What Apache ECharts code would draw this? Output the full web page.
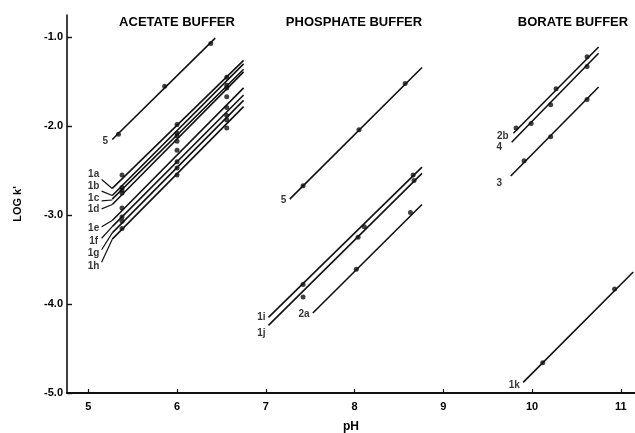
<!DOCTYPE html>
<html>
<head>
<meta charset="utf-8">
<script src="https://cdn.jsdelivr.net/npm/echarts@6/dist/echarts.min.js"></script>
<style>
  html, body { margin: 0; padding: 0; background: #fff; }
  #chart { width: 635px; height: 433px; }
</style>
</head>
<body>
<div id="chart"></div>
<script>
  // fitted lines: [label, pH start, log k' start, pH end, log k' end]
  const acetateLines = [
    ['5', 5.27, -2.15, 6.43, -1.01],
    ['1a', 5.27, -2.70, 6.75, -1.26],
    ['1b', 5.27, -2.78, 6.75, -1.30],
    ['1c', 5.27, -2.82, 6.75, -1.36],
    ['1d', 5.27, -2.88, 6.75, -1.39],
    ['1e', 5.27, -3.06, 6.75, -1.57],
    ['1f', 5.27, -3.13, 6.75, -1.65],
    ['1g', 5.27, -3.20, 6.75, -1.71],
    ['1h', 5.27, -3.27, 6.75, -1.78]
  ]
  const phosphateLines = [
    ['5', 7.27, -2.82, 8.76, -1.34],
    ['1i', 7.03, -4.15, 8.76, -2.46],
    ['1j', 7.03, -4.24, 8.76, -2.53],
    ['2a', 7.53, -4.10, 8.76, -2.88]
  ]
  const borateLines = [
    ['2b', 9.79, -2.08, 10.75, -1.11],
    ['4', 9.77, -2.18, 10.75, -1.18],
    ['3', 9.76, -2.56, 10.75, -1.56],
    ['1k', 9.90, -4.88, 11.14, -3.64]
  ]

  // measured points [pH, log k']
  const acetatePoints = [
    [5.34, -2.09], [5.86, -1.55], [6.38, -1.07],
    [5.38, -2.55], [6.0, -1.98], [6.56, -1.45],
    [5.38, -2.69], [6.0, -2.08], [6.56, -1.54],
    [5.38, -2.72], [6.0, -2.11], [6.56, -1.57],
    [5.38, -2.75], [6.0, -2.17], [6.56, -1.67],
    [5.38, -2.92], [6.0, -2.27], [6.56, -1.79],
    [5.38, -3.02], [6.0, -2.40], [6.56, -1.88],
    [5.38, -3.07], [6.0, -2.47], [6.56, -1.93],
    [5.38, -3.15], [6.0, -2.55], [6.56, -2.02]
  ]
  const phosphatePoints = [
    [7.42, -2.67], [8.05, -2.04], [8.57, -1.52],
    [7.42, -3.78], [8.11, -3.13], [8.66, -2.55],
    [7.42, -3.92], [8.04, -3.25], [8.67, -2.61],
    [8.02, -3.61], [8.63, -2.97]
  ]
  const boratePoints = [
    [9.82, -2.02], [10.27, -1.58], [10.62, -1.22],
    [9.99, -1.97], [10.21, -1.76], [10.62, -1.33],
    [9.91, -2.39], [10.21, -2.12], [10.62, -1.70],
    [10.12, -4.66], [10.93, -3.83]
  ]

  // curve labels [text, pH, log k'] and leader lines [pH, log, pH, log]
  const curveLabels = [
    ['5', 5.19, -2.17],
    ['1a', 5.06, -2.54], ['1b', 5.06, -2.67], ['1c', 5.06, -2.81], ['1d', 5.06, -2.93],
    ['1e', 5.06, -3.15], ['1f', 5.06, -3.29], ['1g', 5.06, -3.43], ['1h', 5.06, -3.57],
    ['5', 7.20, -2.83], ['1i', 6.95, -4.15], ['1j', 6.95, -4.33], ['2a', 7.43, -4.12],
    ['2b', 9.67, -2.11], ['4', 9.63, -2.24], ['3', 9.63, -2.64], ['1k', 9.80, -4.91]
  ]
  const leaders = [
    [5.15, -2.60, 5.27, -2.70],
    [5.15, -2.73, 5.27, -2.78],
    [5.15, -2.84, 5.27, -2.83],
    [5.15, -2.93, 5.27, -2.88],
    [5.15, -3.13, 5.27, -3.06],
    [5.15, -3.26, 5.27, -3.13],
    [5.15, -3.39, 5.27, -3.20],
    [5.15, -3.53, 5.27, -3.27]
  ]

  const buffers = ['ACETATE BUFFER', 'PHOSPHATE BUFFER', 'BORATE BUFFER']
  const xTicks = [5, 6, 7, 8, 9, 10, 11]
  const yTicks = [-5, -4, -3, -2, -1]

  const ink = '#000'
  const font = "'Liberation Sans', Arial, sans-serif"

  const chart = echarts.init(document.getElementById('chart'))

  const series = []
  acetateLines.concat(phosphateLines, borateLines).forEach(function (l) {
    series.push({
      type: 'line',
      data: [[l[1], l[2]], [l[3], l[4]]],
      showSymbol: false,
      silent: true,
      lineStyle: { color: '#111', width: 1.6 }
    })
  })
  leaders.forEach(function (l) {
    series.push({
      type: 'line',
      data: [[l[0], l[1]], [l[2], l[3]]],
      showSymbol: false,
      silent: true,
      lineStyle: { color: '#111', width: 1.2 }
    })
  })
  series.push({
    type: 'scatter',
    data: acetatePoints.concat(phosphatePoints, boratePoints),
    symbolSize: 5,
    silent: true,
    itemStyle: { color: '#111' }
  })
  series.push({
    type: 'scatter',
    data: curveLabels.map(function (c) { return { value: [c[1], c[2]], name: c[0] } }),
    symbolSize: 0,
    silent: true,
    label: {
      show: true,
      position: 'inside',
      formatter: '{b}',
      color: ink,
      fontFamily: font,
      fontWeight: 'bold',
      fontSize: 10
    }
  })

  chart.setOption({
    animation: false,
    backgroundColor: '#fff',
    title: [
      { text: buffers[0], left: 177, top: 16 },
      { text: buffers[1], left: 354, top: 16 },
      { text: buffers[2], left: 573, top: 16 }
    ].map(function (t) {
      t.textAlign = 'center'
      t.padding = 0
      t.textStyle = { color: ink, fontFamily: font, fontWeight: 'bold', fontSize: 13 }
      return t
    }),
    grid: { left: 67, right: 0, top: 15, bottom: 40, outerBoundsMode: 'none', containLabel: false },
    xAxis: {
      type: 'value',
      min: 4.76,
      max: 11.16,
      name: 'pH',
      nameLocation: 'middle',
      nameGap: 28,
      nameTextStyle: { color: ink, fontFamily: font, fontWeight: 'bold', fontSize: 12 },
      axisLine: { lineStyle: { color: '#111', width: 2 } },
      axisTick: { inside: true, length: 4, customValues: xTicks, lineStyle: { color: '#111', width: 1.2 } },
      axisLabel: { customValues: xTicks, margin: 8, color: ink, fontFamily: font, fontWeight: 'bold', fontSize: 11 },
      splitLine: { show: false }
    },
    yAxis: {
      type: 'value',
      min: -5,
      max: -0.75,
      name: "LOG k'",
      nameLocation: 'middle',
      nameGap: 44,
      nameRotate: 90,
      nameTextStyle: { color: ink, fontFamily: font, fontWeight: 'bold', fontSize: 11 },
      axisLine: { show: true, lineStyle: { color: '#111', width: 1.6 } },
      axisTick: { show: true, inside: true, length: 5, customValues: yTicks, lineStyle: { color: '#111', width: 1.4 } },
      axisLabel: {
        customValues: yTicks,
        margin: 4,
        color: ink,
        fontFamily: font,
        fontWeight: 'bold',
        fontSize: 11,
        formatter: function (v) { return v.toFixed(1) }
      },
      splitLine: { show: false }
    },
    series: series
  })
</script>
</body>
</html>
